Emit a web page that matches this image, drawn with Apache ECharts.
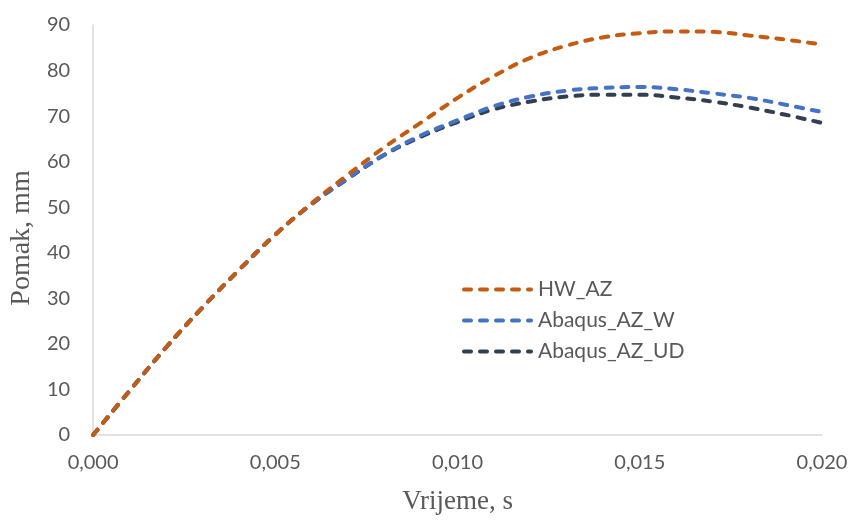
<!DOCTYPE html>
<html>
<head>
<meta charset="utf-8">
<script src="https://cdn.jsdelivr.net/npm/echarts@6/dist/echarts.min.js"></script>
<style>html,body{margin:0;padding:0;background:#fff;}#c{width:851px;height:520px;}</style>
</head>
<body>
<div id="c"></div>
<script>
const times = [0, 0.001, 0.002, 0.003, 0.004, 0.005, 0.006, 0.007, 0.008, 0.009, 0.010, 0.011, 0.012, 0.013, 0.014, 0.015, 0.016, 0.017, 0.018, 0.019, 0.020];
const hwAZ      = [0, 9.7, 19.2, 28.0, 36.2, 44.0, 50.9, 57.2, 63.2, 68.6, 74.0, 78.8, 82.8, 85.5, 87.3, 88.2, 88.6, 88.5, 87.7, 86.8, 85.7];
const abaqusW   = [0, 9.7, 19.2, 28.0, 36.2, 44.0, 50.7, 56.4, 61.6, 65.8, 69.1, 72.2, 74.3, 75.6, 76.2, 76.4, 75.9, 75.0, 74.0, 72.5, 70.9];
const abaqusUD  = [0, 9.7, 19.2, 28.0, 36.2, 44.0, 50.7, 56.3, 61.5, 65.5, 68.7, 71.5, 73.2, 74.3, 74.7, 74.7, 74.1, 73.2, 71.9, 70.3, 68.5];
const seriesNames = ['HW_AZ', 'Abaqus_AZ_W', 'Abaqus_AZ_UD'];
const seriesColors = ['#C55A11', '#4472C4', '#333F50'];
const xTicks = { min: 0, max: 0.02, interval: 0.005 };
const yTicks = { min: 0, max: 90, interval: 10 };

const dataSets = [hwAZ, abaqusW, abaqusUD];
const chart = echarts.init(document.getElementById('c'), null, {renderer: 'canvas'});
const labelFont = 'Lato, "Open Sans", sans-serif';
const dashIcon = 'path://M2,0h7a2,2 0 0 1 0,4h-7a2,2 0 0 1 0,-4z M18,0h7a2,2 0 0 1 0,4h-7a2,2 0 0 1 0,-4z M34,0h7a2,2 0 0 1 0,4h-7a2,2 0 0 1 0,-4z M50,0h7a2,2 0 0 1 0,4h-7a2,2 0 0 1 0,-4z M66,0h3a2,2 0 0 1 0,4h-3a2,2 0 0 1 0,-4z';
chart.setOption({
  animation: false,
  backgroundColor: '#fff',
  grid: { left: 90, right: 29, top: 25, bottom: 83, containLabel: false },
  legend: {
    orient: 'vertical',
    left: 462,
    top: 279,
    padding: 0,
    icon: dashIcon,
    itemWidth: 71,
    itemHeight: 4,
    itemGap: 10,
    textStyle: { fontFamily: labelFont, fontSize: 21, color: '#595959' },
    data: seriesNames
  },
  xAxis: {
    type: 'value',
    min: xTicks.min, max: xTicks.max, interval: xTicks.interval,
    name: 'Vrijeme, s',
    nameLocation: 'middle',
    nameGap: 53,
    nameTextStyle: { fontFamily: '"Liberation Serif", serif', fontSize: 27, color: '#595959' },
    axisLine: { show: true, lineStyle: { color: '#d9d9d9', width: 1.5 } },
    axisTick: { show: false },
    splitLine: { show: false },
    axisLabel: {
      fontFamily: labelFont, fontSize: 20, color: '#595959', margin: 18,
      formatter: v => v.toFixed(3).replace('.', ',')
    }
  },
  yAxis: {
    type: 'value',
    min: yTicks.min, max: yTicks.max, interval: yTicks.interval,
    name: 'Pomak, mm',
    nameLocation: 'middle',
    nameGap: 56,
    nameTextStyle: { fontFamily: '"Liberation Serif", serif', fontSize: 28, color: '#595959', padding: [0, 16, 0, 0] },
    axisLine: { show: true, lineStyle: { color: '#d9d9d9', width: 1.5 } },
    axisTick: { show: false },
    splitLine: { show: false },
    axisLabel: { fontFamily: labelFont, fontSize: 20, color: '#595959', margin: 23 }
  },
  series: seriesNames.map((name, i) => ({
    name: name,
    type: 'line',
    smooth: 0.4,
    showSymbol: false,
    symbol: 'none',
    color: seriesColors[i],
    itemStyle: { color: seriesColors[i] },
    lineStyle: { color: seriesColors[i], width: 4, type: [7, 9], cap: 'round' },
    data: times.map((t, j) => [t, dataSets[i][j]]),
    z: 3 - i
  }))
});
</script>
</body>
</html>
